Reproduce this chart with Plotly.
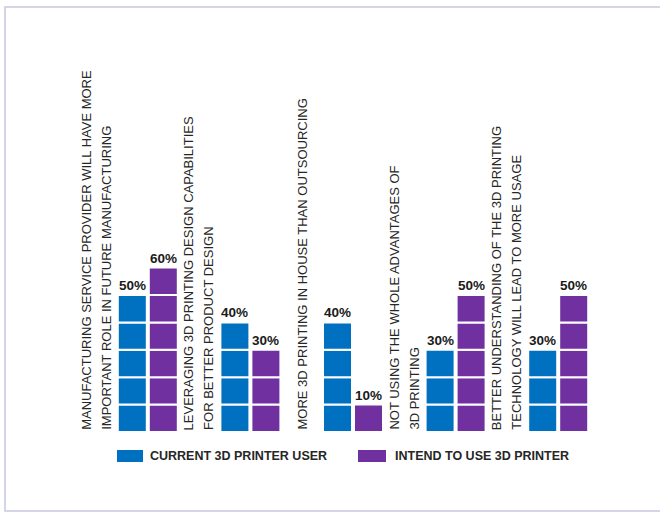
import plotly.graph_objects as go

# ---------------- data ----------------
label_line1 = [
    "MANUFACTURING SERVICE PROVIDER WILL HAVE MORE",
    "LEVERAGING 3D PRINTING DESIGN CAPABILITIES",
    "MORE 3D PRINTING IN HOUSE THAN OUTSOURCING",
    "NOT USING THE WHOLE ADVANTAGES OF",
    "BETTER UNDERSTANDING OF THE 3D PRINTING",
]
label_line2 = [
    "IMPORTANT ROLE IN FUTURE MANUFACTURING",
    "FOR BETTER PRODUCT DESIGN",
    "",
    "3D PRINTING",
    "TECHNOLOGY WILL LEAD TO MORE USAGE",
]
series_names = ["CURRENT 3D PRINTER USER", "INTEND TO USE 3D PRINTER"]
current_user = [50, 40, 40, 30, 30]
intend_to_use = [60, 30, 10, 50, 50]
block_size = 10

# ---------------- styling ----------------
W, H = 660, 513
PX_PER_GROUP = 102.6
X0_PX = 147.8              # pixel of first group centre
Y0_PX = 432                # pixel of value 0
PX_PER_UNIT = 2.74
colors = ["#0070C0", "#7030A0"]
bar_offsets = [-15.5 / PX_PER_GROUP, 15.5 / PX_PER_GROUP]
bar_width = 29 / PX_PER_GROUP
text_color = "#262626"
label_font = "Liberation Sans, Arial, sans-serif"

x_range = [-X0_PX / PX_PER_GROUP, (W - X0_PX) / PX_PER_GROUP]
y_span = H / PX_PER_UNIT
y_lo = -(H - Y0_PX) / PX_PER_UNIT
y_range = [y_lo, y_lo + y_span]

fig = go.Figure()
series_values = [current_user, intend_to_use]

for s, vals in enumerate(series_values):
    xs, bases, ys = [], [], []
    for i, v in enumerate(vals):
        n = int(round(v / block_size))
        for k in range(n):
            xs.append(i + bar_offsets[s])
            bases.append(k * block_size)
            ys.append(block_size)
    fig.add_trace(go.Bar(
        x=xs, y=ys, base=bases, width=bar_width, name=series_names[s],
        marker=dict(color=colors[s], line=dict(color="white", width=2)),
        showlegend=False, hoverinfo="skip",
    ))
    for i, v in enumerate(vals):
        fig.add_annotation(
            x=i + bar_offsets[s], y=v, xref="x", yref="y",
            text=f"<b>{v}%</b>", showarrow=False, yanchor="bottom", xanchor="center",
            font=dict(family=label_font, size=13.5, color="#1a1a1a"),
        )

# category labels, rotated, to the left of each group
line1_off = -62 / PX_PER_GROUP
line2_off = -42 / PX_PER_GROUP
single_off = -51 / PX_PER_GROUP
for i, (l1, l2) in enumerate(zip(label_line1, label_line2)):
    lines = [(l1, line1_off), (l2, line2_off)] if l2 else [(l1, single_off)]
    for txt, off in lines:
        fig.add_annotation(
            x=i + off, y=0, xref="x", yref="y", text=txt, showarrow=False,
            textangle=-90, xanchor="center", yanchor="bottom",
            font=dict(family=label_font, size=13, color=text_color),
        )

# custom legend
legend_items = [(117, 143, 148), (358, 386, 393)]
for s, (x0, x1, tx) in enumerate(legend_items):
    fig.add_shape(type="rect", xref="paper", yref="paper",
                  x0=x0 / W, x1=x1 / W, y0=1 - 462 / H, y1=1 - 450 / H,
                  fillcolor=colors[s], line=dict(width=0))
    fig.add_annotation(x=tx / W, y=1 - 456 / H, xref="paper", yref="paper",
                       text=f"<b>{series_names[s]}</b>", showarrow=False,
                       xanchor="left", yanchor="middle",
                       font=dict(family=label_font, size=12.5, color=text_color))

# outer frame
fig.add_shape(type="rect", xref="paper", yref="paper",
              x0=5 / W, x1=1.05, y0=1 - 511 / H, y1=1 - 7 / H,
              line=dict(color="#C8C8E4", width=1.5), fillcolor="rgba(0,0,0,0)")

fig.update_layout(
    width=W, height=H, margin=dict(l=0, r=0, t=0, b=0),
    paper_bgcolor="white", plot_bgcolor="white",
    barmode="overlay", showlegend=False,
    xaxis=dict(range=x_range, visible=False, fixedrange=True),
    yaxis=dict(range=y_range, visible=False, fixedrange=True),
)

fig.write_html(
    "out.html",
    config={"displayModeBar": False, "staticPlot": True},
    post_script="document.body.style.margin='0';document.body.style.overflow='hidden';",
)
